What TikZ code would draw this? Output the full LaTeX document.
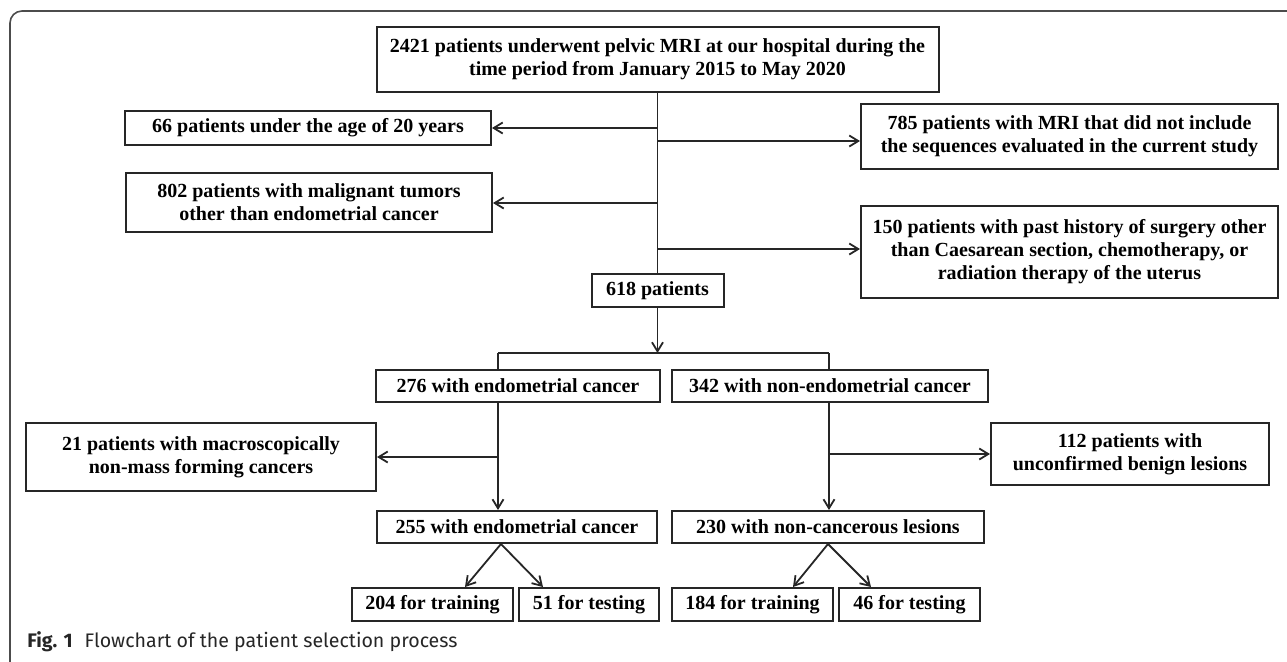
\documentclass[tikz,border=0pt]{standalone}
\usepackage{fontspec}
\setmainfont{Liberation Serif}
\newfontfamily\capfont{Fira Sans}
\usetikzlibrary{arrows.meta}

\begin{document}
\begin{tikzpicture}[x=0.5pt, y=-0.5pt,
  box/.style 2 args={draw=black!85, line width=1pt, inner sep=0pt, align=center,
    minimum width=#1*0.5pt, minimum height=#2*0.5pt,
    font=\bfseries\fontsize{10}{11.5}\selectfont},
  ln/.style={draw=black!85, line width=0.9pt},
  arr/.style={ln, -{Straight Barb[length=4.5pt, width=5.5pt]}},
  frame/.style={draw=black!70, line width=0.8pt, rounded corners=6pt}]
  \useasboundingbox (0,0) rectangle (1287,661);
  \draw[frame] (1295,11) -- (10,11) -- (10,675) -- (40,675);
  \node[box={562}{65}] (n2421) at (657.5,59.5) {2421 patients underwent pelvic MRI at our hospital during the\\time period from January 2015 to May 2020};
  \node[box={366}{34}] (n66) at (308,128) {66 patients under the age of 20 years};
  \node[box={417}{65}] (n785) at (1069.5,136.5) {785 patients with MRI that did not include\\the sequences evaluated in the current study};
  \node[box={366}{59}] (n802) at (309,202.5) {802 patients with malignant tumors\\other than endometrial cancer};
  \node[box={417}{92}] (n150) at (1069.5,252) {150 patients with past history of surgery other\\than Caesarean section, chemotherapy, or\\radiation therapy of the uterus};
  \node[box={132}{33}] (n618) at (657.5,290.5) {618 patients};
  \node[box={284}{32}] (n276) at (518,386) {276 with endometrial cancer};
  \node[box={316}{32}] (n342) at (830,386) {342 with non-endometrial cancer};
  \node[box={350}{68}] (n21) at (201,457) {21 patients with macroscopically\\non-mass forming cancers};
  \node[box={278}{62}] (n112) at (1130,454) {112 patients with\\unconfirmed benign lesions};
  \node[box={280}{32}] (n255) at (517,527) {255 with endometrial cancer};
  \node[box={312}{32}] (n230) at (828,527) {230 with non-cancerous lesions};
  \node[box={161}{33}] (n204) at (432.5,604.5) {204 for training};
  \node[box={140}{33}] (n51) at (589,604.5) {51 for testing};
  \node[box={161}{33}] (n184) at (752.5,604.5) {184 for training};
  \node[box={141}{33}] (n46) at (909.5,604.5) {46 for testing};
  \node[anchor=base west, inner sep=0pt, text=black!85, font=\capfont\fontsize{9.8}{11}\selectfont] (cap) at (27,647) {\textbf{Fig. 1}\hspace{6pt}Flowchart of the patient selection process};
  \coordinate (b66) at (657.5,128);
  \coordinate (b785) at (657.5,141);
  \coordinate (b802) at (657.5,203);
  \coordinate (b150) at (657.5,249);
  \coordinate (sl) at (498,353);
  \coordinate (sr) at (829,353);
  \coordinate (b21) at (498,457);
  \coordinate (b112) at (829,454);
  \coordinate (a255) at (501,543);
  \coordinate (a230) at (828,543);
  \coordinate (t204) at (465,587);
  \coordinate (t51) at (543,587);
  \coordinate (t184) at (793,587);
  \coordinate (t46) at (871,587);
  \draw[ln] (n2421) -- (n618);
  \draw[arr] (b66) -- (b66 -| n66.east);
  \draw[arr] (b785) -- (b785 -| n785.west);
  \draw[arr] (b802) -- (b802 -| n802.east);
  \draw[arr] (b150) -- (b150 -| n150.west);
  \draw[arr] (n618) -- (n618 |- sl);
  \draw[ln] (sl) -- (sr);
  \draw[ln] (sl) -- (sl |- n276.north);
  \draw[ln] (sr) -- (sr |- n342.north);
  \draw[arr] (sl |- n276.south) -- (sl |- n255.north);
  \draw[arr] (sr |- n342.south) -- (sr |- n230.north);
  \draw[arr] (b21) -- (b21 -| n21.east);
  \draw[arr] (b112) -- (b112 -| n112.west);
  \draw[arr] (a255 |- n255.south) -- (t204 |- n204.north);
  \draw[arr] (a255 |- n255.south) -- (t51 |- n51.north);
  \draw[arr] (a230 |- n230.south) -- (t184 |- n184.north);
  \draw[arr] (a230 |- n230.south) -- (t46 |- n46.north);
\end{tikzpicture}
\end{document}
